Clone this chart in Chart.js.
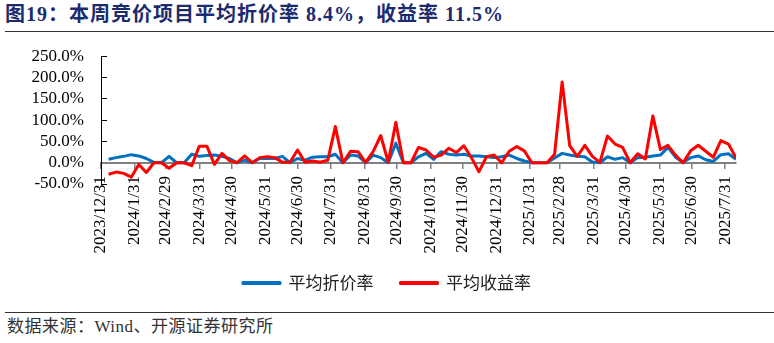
<!DOCTYPE html>
<html>
<head>
<meta charset="utf-8">
<script src="https://cdn.jsdelivr.net/npm/chart.js@4/dist/chart.umd.min.js"></script>
<style>
  html, body { margin: 0; padding: 0; background: #fff; }
  #wrap { position: relative; width: 774px; height: 343px; overflow: hidden; }
  #title { position: absolute; left: 5px; top: 1px; font: bold 20px "Liberation Serif", "Noto Sans CJK SC"; color: #1c2b6e; letter-spacing: 1px; white-space: nowrap; line-height: 26px; }
  #rule1 { position: absolute; left: 5px; right: 0; top: 31px; border-top: 1.5px solid #333; }
  #box { position: absolute; left: 0; top: 33px; width: 774px; height: 279px; }
  #rule2 { position: absolute; left: 5px; right: 0; top: 312px; border-top: 1.5px solid #333; }
  #source { position: absolute; left: 7px; top: 317px; font: 17px "Liberation Serif", "Noto Sans CJK SC"; color: #333; letter-spacing: 0.5px; line-height: 20px; white-space: nowrap; }
</style>
</head>
<body>
<div id="wrap">
  <div id="title"></div>
  <div id="rule1"></div>
  <div id="box"><canvas id="c" width="774" height="279"></canvas></div>
  <div id="rule2"></div>
  <div id="source">数据来源：Wind、开源证券研究所</div>
</div>
<script>
// Weekly observation dates
const weekDates = [
  '2024-01-07','2024-01-14','2024-01-21','2024-01-28',
  '2024-02-04','2024-02-11','2024-02-18','2024-02-25',
  '2024-03-03','2024-03-10','2024-03-17','2024-03-24','2024-03-31',
  '2024-04-07','2024-04-14','2024-04-21','2024-04-28',
  '2024-05-05','2024-05-12','2024-05-19','2024-05-26',
  '2024-06-02','2024-06-09','2024-06-16','2024-06-23','2024-06-30',
  '2024-07-07','2024-07-14','2024-07-21','2024-07-28',
  '2024-08-04','2024-08-11','2024-08-18','2024-08-25',
  '2024-09-01','2024-09-08','2024-09-15','2024-09-22','2024-09-29',
  '2024-10-06','2024-10-13','2024-10-20','2024-10-27',
  '2024-11-03','2024-11-10','2024-11-17','2024-11-24',
  '2024-12-01','2024-12-08','2024-12-15','2024-12-22','2024-12-29',
  '2025-01-05','2025-01-12','2025-01-19','2025-01-26',
  '2025-02-02','2025-02-09','2025-02-16','2025-02-23',
  '2025-03-02','2025-03-09','2025-03-16','2025-03-23','2025-03-30',
  '2025-04-06','2025-04-13','2025-04-20','2025-04-27',
  '2025-05-04','2025-05-11','2025-05-18','2025-05-25',
  '2025-06-01','2025-06-08','2025-06-15','2025-06-22','2025-06-29',
  '2025-07-06','2025-07-13','2025-07-20','2025-07-27',
  '2025-08-03','2025-08-10'
];

// 平均折价率 (%)
const discountRate = [
  8, 12, 15, 19, 16, 10, 1, 0, 15, 0, 0, 20, 15, 17, 18, 15, 10, 0, 6, 0,
  10, 10, 10, 15, 0, 10, 6, 13, 14, 14, 20, 0, 18, 16, 0, 18, 12, 0, 46, 0,
  0, 14, 22, 8, 26, 20, 18, 20, 16, 16, 14, 12, 14, 18, 10, 4, 0, 0, 0, 11,
  22, 18, 15, 14, 2, 0, 14, 8, 12, 0, 12, 13, 16, 18, 36, 13, 1, 12, 16, 7,
  3, 19, 21, 8.4
];

// 平均收益率 (%)
const returnRate = [
  -27, -22, -25, -34, -4, -23, 0, 0, -13, 0, 0, -7, 39, 39, -4, 22, 5, 0, 16, 0,
  12, 14, 12, 1, 1, 30, 1, 4, 1, 6, 85, 0, 27, 26, 1, 26, 64, 1, 95, 0,
  0, 36, 30, 13, 18, 34, 24, 40, 12, -21, 14, 18, 0, 27, 38, 28, 0, 0, 0, 20,
  190, 40, 15, 41, 15, 1, 63, 44, 36, 0, 21, 9, 110, 31, 41, 18, 0, 28, 41, 27,
  13, 52, 44, 11.5
];

// Month-end axis labels
const tickLabels = [
  '2023/12/31','2024/1/31','2024/2/29','2024/3/31','2024/4/30','2024/5/31',
  '2024/6/30','2024/7/31','2024/8/31','2024/9/30','2024/10/31','2024/11/30',
  '2024/12/31','2025/1/31','2025/2/28','2025/3/31','2025/4/30','2025/5/31',
  '2025/6/30','2025/7/31'
];

// Day offsets from the axis origin (2023/12/31)
const ORIGIN = Date.UTC(2023, 11, 31);
function dayOf(str) {
  const p = str.split(/[-\/]/).map(Number);
  return Math.round((Date.UTC(p[0], p[1] - 1, p[2]) - ORIGIN) / 86400000);
}
const labelByDay = {};
tickLabels.forEach(t => { labelByDay[dayOf(t)] = t; });
const tickDays = tickLabels.map(dayOf);
const xMax = dayOf(weekDates[weekDates.length - 1]);
const Y_MIN = -50, Y_MAX = 250;

const toPoints = vals => vals.map((v, i) => ({ x: dayOf(weekDates[i]), y: v }));
const last = arr => arr[arr.length - 1];

document.getElementById('title').textContent =
  '图19：本周竞价项目平均折价率 ' + last(discountRate) + '%，收益率 ' + last(returnRate) + '%';

const monthTicks = scale => { scale.ticks = tickDays.map(v => ({ value: v })); };

new Chart(document.getElementById('c'), {
  type: 'line',
  data: {
    datasets: [
      {
        label: '平均折价率',
        data: toPoints(discountRate),
        borderColor: '#0070c0',
        backgroundColor: '#0070c0',
        borderWidth: 3,
        pointRadius: 0,
        tension: 0,
        borderJoinStyle: 'round',
        order: 2
      },
      {
        label: '平均收益率',
        data: toPoints(returnRate),
        borderColor: '#ff0000',
        backgroundColor: '#ff0000',
        borderWidth: 3,
        pointRadius: 0,
        tension: 0,
        borderJoinStyle: 'round',
        order: 1
      }
    ]
  },
  options: {
    responsive: false,
    animation: false,
    devicePixelRatio: 1,
    layout: { padding: { left: 0, right: 0, top: 23.4, bottom: 10.5 } },
    plugins: {
      tooltip: { enabled: false },
      legend: {
        position: 'bottom',
        labels: {
          boxWidth: 37,
          boxHeight: 1,
          padding: 27,
          color: '#222',
          font: { family: '"Noto Sans CJK SC"', size: 17 },
          sort: (a, b) => a.datasetIndex - b.datasetIndex
        }
      }
    },
    scales: {
      // reserves the band below the plot for the date labels
      x: {
        type: 'linear',
        position: 'bottom',
        min: 0,
        max: xMax,
        afterFit: s => { s.height = 63.5; },
        grid: { display: false, drawTicks: false },
        border: { display: false },
        ticks: { display: false }
      },
      // date labels, hung from the bottom of the value range
      xl: {
        type: 'linear',
        axis: 'x',
        position: { y: Y_MIN },
        min: 0,
        max: xMax,
        afterBuildTicks: monthTicks,
        grid: { display: false, drawTicks: false },
        border: { display: false },
        ticks: {
          autoSkip: false,
          minRotation: 90,
          maxRotation: 90,
          padding: -8,
          color: '#000',
          font: { family: '"Liberation Serif"', size: 17 },
          callback: v => labelByDay[v] || ''
        }
      },
      // zero line with month tick marks
      xz: {
        type: 'linear',
        axis: 'x',
        position: { y: 0 },
        min: 0,
        max: xMax,
        afterBuildTicks: monthTicks,
        grid: { display: true, drawOnChartArea: false, drawTicks: true, tickLength: 5, color: '#808080', lineWidth: 1.5 },
        border: { display: true, color: '#808080', width: 2 },
        ticks: { display: false }
      },
      y: {
        min: Y_MIN,
        max: Y_MAX,
        afterFit: s => { s.width = 101; s.paddingTop = 0; s.paddingBottom = 0; },
        grid: { display: true, drawOnChartArea: false, drawTicks: true, tickLength: -6, color: '#000', lineWidth: 1 },
        border: { display: true, color: '#000', width: 1 },
        ticks: {
          autoSkip: false,
          stepSize: 50,
          padding: 23,
          color: '#000',
          font: { family: '"Liberation Serif"', size: 17 },
          callback: v => v.toFixed(1) + '%'
        }
      },
      // right margin of the plot
      yr: {
        type: 'linear',
        position: 'right',
        min: Y_MIN,
        max: Y_MAX,
        afterFit: s => { s.width = 38; },
        grid: { display: false, drawTicks: false },
        border: { display: false },
        ticks: { display: false }
      }
    }
  }
});
</script>
</body>
</html>
